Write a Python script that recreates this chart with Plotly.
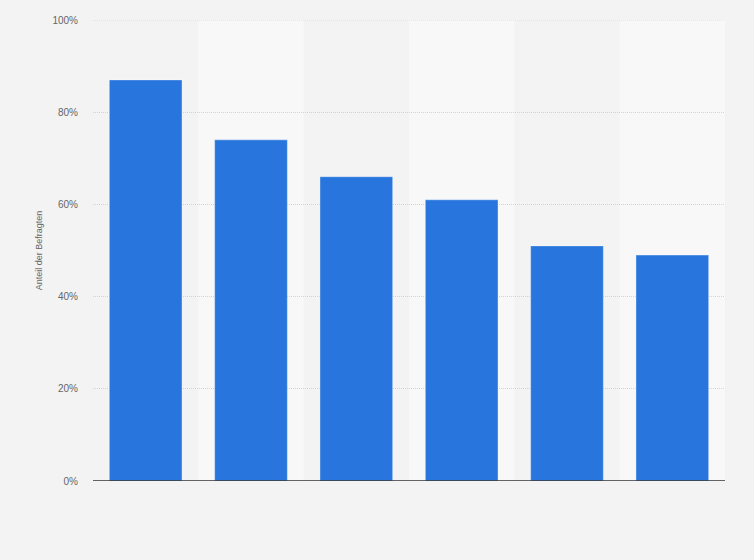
import plotly.graph_objects as go

categories = ["1", "2", "3", "4", "5", "6"]
values = [87, 74, 66, 61, 51, 49]
y_ticks = [0, 20, 40, 60, 80, 100]
y_tick_labels = ["0%", "20%", "40%", "60%", "80%", "100%"]
y_title = "Anteil der Befragten"

BG = "#f3f3f3"
BAND = "#f8f8f8"
BAR = "#2876dd"
GRID = "#d3d3d3"

fig = go.Figure()
fig.add_trace(go.Bar(
    x=list(range(len(categories))),
    y=values,
    marker=dict(color=BAR, line=dict(color="rgba(255,255,255,0.35)", width=1)),
    hoverinfo="y",
))

shapes = []
for i in range(len(categories)):
    if i % 2 == 1:
        shapes.append(dict(type="rect", xref="x", yref="paper",
                           x0=i - 0.5, x1=i + 0.5, y0=0, y1=1,
                           fillcolor=BAND, line=dict(width=0), layer="below"))

fig.update_layout(
    width=754, height=560,
    paper_bgcolor=BG, plot_bgcolor=BG,
    margin=dict(l=93, r=29, t=20, b=79),
    bargap=0.31,
    showlegend=False,
    shapes=shapes,
    font=dict(family="Arial, Liberation Sans, sans-serif", color="#666666"),
    xaxis=dict(
        range=[-0.5, len(categories) - 0.5],
        tickvals=list(range(len(categories))),
        showticklabels=False,
        showgrid=False, zeroline=False, fixedrange=True,
        showline=False,
    ),
    yaxis=dict(
        range=[0, 100],
        tickvals=y_ticks, ticktext=y_tick_labels,
        tickfont=dict(size=10, color="#666666"),
        showgrid=True, gridcolor=GRID, griddash="1px,1px", gridwidth=1,
        zeroline=False,
        ticks="", ticklen=0,
        ticklabelstandoff=14,
        title=dict(text=y_title, font=dict(size=9, color="#666666"), standoff=8),
    ),
)
fig.add_shape(type="line", xref="paper", yref="y", x0=0, x1=1,
              y0=y_ticks[-1], y1=y_ticks[-1],
              line=dict(color=GRID, width=1, dash="1px,1px"), layer="below")
fig.add_shape(type="line", xref="paper", yref="y", x0=0, x1=1, y0=0, y1=0,
              line=dict(color="#333333", width=1.5), layer="above")

fig.write_html("out.html",
               config={"displayModeBar": False},
               post_script="document.body.style.margin='0';document.body.style.padding='0';document.body.style.overflow='hidden';")
